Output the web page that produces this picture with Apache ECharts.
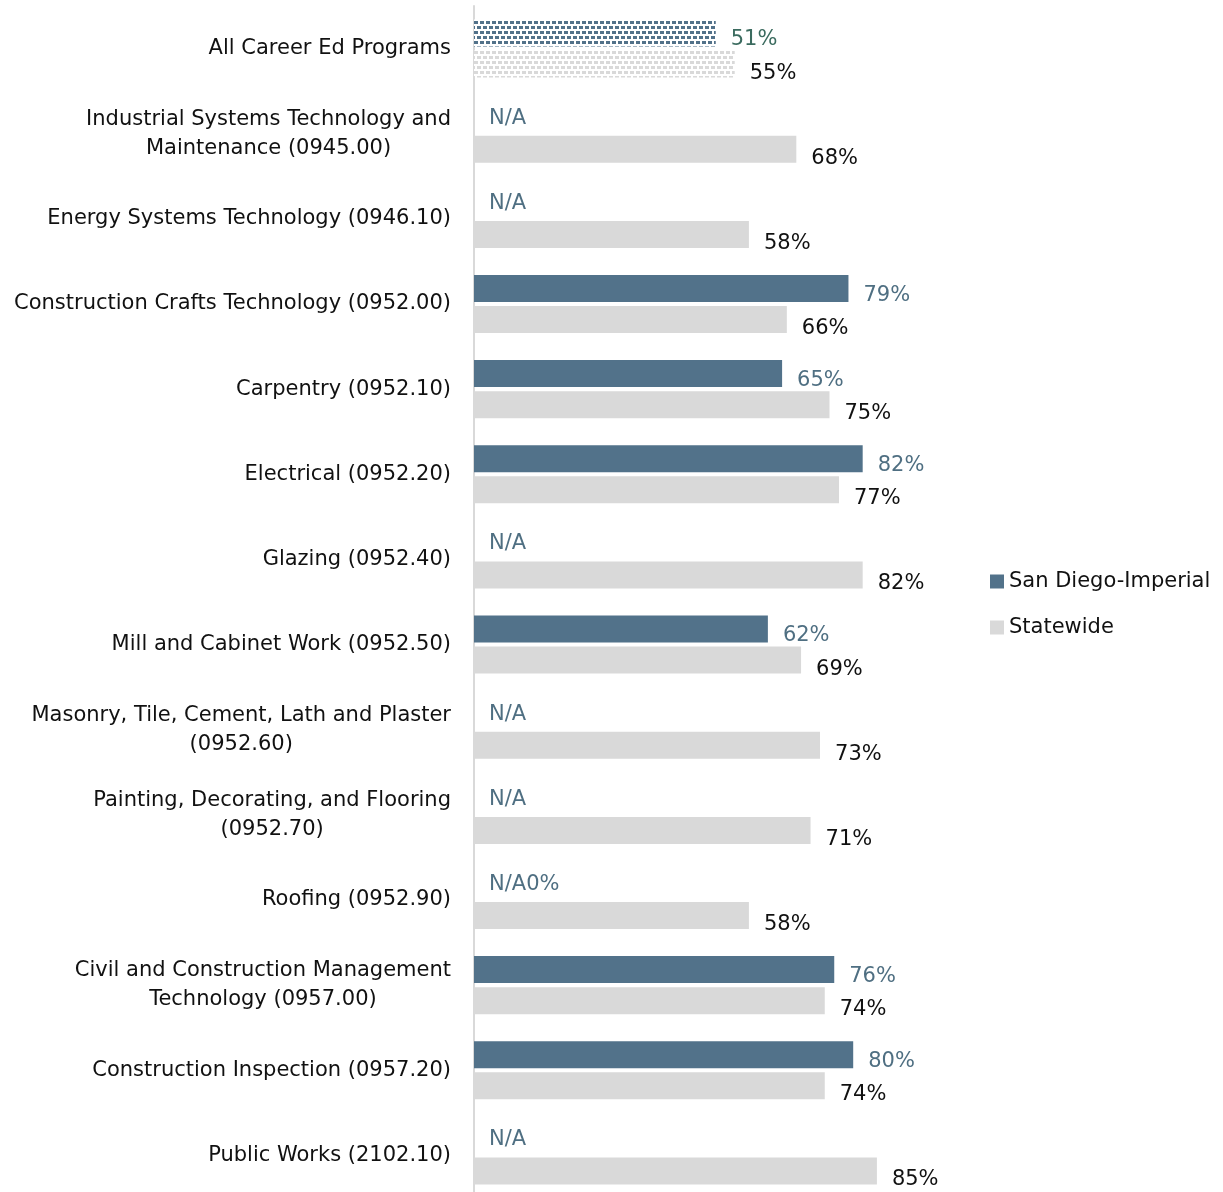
<!DOCTYPE html>
<html>
<head>
<meta charset="utf-8">
<script src="https://cdn.jsdelivr.net/npm/echarts@6/dist/echarts.min.js"></script>
<style>
html,body{margin:0;padding:0;background:#fff;overflow:hidden;}
#chart{width:1223px;height:1210px;}
</style>
</head>
<body>
<div id="chart"></div>
<script>
// ---- data ----
var categories = [
  'All Career Ed Programs',
  'Industrial Systems Technology and\nMaintenance (0945.00)',
  'Energy Systems Technology (0946.10)',
  'Construction Crafts Technology (0952.00)',
  'Carpentry (0952.10)',
  'Electrical (0952.20)',
  'Glazing (0952.40)',
  'Mill and Cabinet Work (0952.50)',
  'Masonry, Tile, Cement, Lath and Plaster\n(0952.60)',
  'Painting, Decorating, and Flooring\n(0952.70)',
  'Roofing (0952.90)',
  'Civil and Construction Management\nTechnology (0957.00)',
  'Construction Inspection (0957.20)',
  'Public Works (2102.10)'
];
var seriesNames = ['San Diego-Imperial', 'Statewide'];
var sdValues = [51, null, null, 79, 65, 82, null, 62, null, null, 0, 76, 80, null];
var sdNA = [false, true, true, false, false, false, true, false, true, true, true, false, false, true];
var swValues = [55, 68, 58, 66, 75, 77, 82, 69, 73, 71, 58, 74, 74, 85];

// ---- styles ----
var SD_COLOR = '#52728A';
var SW_COLOR = '#D9D9D9';
var SD_LABEL = '#4F6F82';
var FONT = 'DejaVu Sans';
var FS = 21;

function makePattern(fg) {
  var c = document.createElement('canvas');
  c.width = 6; c.height = 10;
  var ctx = c.getContext('2d');
  ctx.fillStyle = '#ffffff';
  ctx.fillRect(0, 0, 6, 10);
  ctx.fillStyle = fg;
  ctx.fillRect(0, 1, 4, 3);
  ctx.fillRect(3, 6, 4, 3);
  ctx.fillRect(-3, 6, 4, 3);
  return { image: c, repeat: 'repeat' };
}

var sdData = sdValues.map(function (v, i) {
  var item = { value: v === null ? 0 : v };
  if (i === 0) {
    item.itemStyle = { color: makePattern(SD_COLOR) };
    item.label = { color: '#3B6B5F' };
  }
  if (sdNA[i]) {
    item.label = { offset: [0, 0] };
  }
  return item;
});
var swData = swValues.map(function (v, i) {
  var item = { value: v };
  if (i === 0) {
    item.itemStyle = { color: makePattern(SW_COLOR) };
  }
  return item;
});

var chart = echarts.init(document.getElementById('chart'), null, { renderer: 'canvas' });
chart.setOption({
  animation: false,
  backgroundColor: '#ffffff',
  textStyle: { fontFamily: FONT },
  grid: { left: 474, right: 275, top: 6, height: 1192, containLabel: false, outerBoundsMode: 'none' },
  legend: {
    orient: 'vertical',
    left: 985,
    top: 566,
    itemWidth: 14,
    itemHeight: 14,
    itemGap: 25,
    icon: 'rect',
    textStyle: { fontSize: FS, lineHeight: 20, color: '#111', fontFamily: FONT },
    data: seriesNames
  },
  xAxis: {
    type: 'value', min: 0, max: 100, show: false
  },
  yAxis: {
    type: 'category',
    inverse: true,
    data: categories,
    axisLine: { show: true, lineStyle: { color: '#D9D9D9', width: 2 } },
    axisTick: { show: false },
    axisLabel: {
      margin: 23,
      fontSize: FS,
      color: '#111',
      fontFamily: FONT,
      lineHeight: 29,
      formatter: function (v) {
        return v.split('\n').map(function (l) { return '{c|' + l + '}'; }).join('\n');
      },
      rich: { c: { align: 'center', fontSize: FS, color: '#111', fontFamily: FONT, lineHeight: 29 } }
    }
  },
  series: [
    {
      name: seriesNames[0],
      type: 'bar',
      data: sdData,
      barWidth: 27,
      barGap: '15%',
      itemStyle: { color: SD_COLOR },
      label: {
        show: true,
        position: 'right',
        distance: 15,
        offset: [0, 7],
        fontSize: FS,
        color: SD_LABEL,
        fontFamily: FONT,
        formatter: function (p) {
          var i = p.dataIndex;
          var s = sdNA[i] ? 'N/A' : '';
          if (sdValues[i] !== null) s += sdValues[i] + '%';
          return s;
        }
      }
    },
    {
      name: seriesNames[1],
      type: 'bar',
      data: swData,
      barWidth: 27,
      barGap: '15%',
      itemStyle: { color: SW_COLOR },
      label: {
        show: true,
        position: 'right',
        distance: 15,
        offset: [0, 9],
        fontSize: FS,
        color: '#111',
        fontFamily: FONT,
        formatter: function (p) { return p.value + '%'; }
      }
    }
  ]
});
</script>
</body>
</html>
